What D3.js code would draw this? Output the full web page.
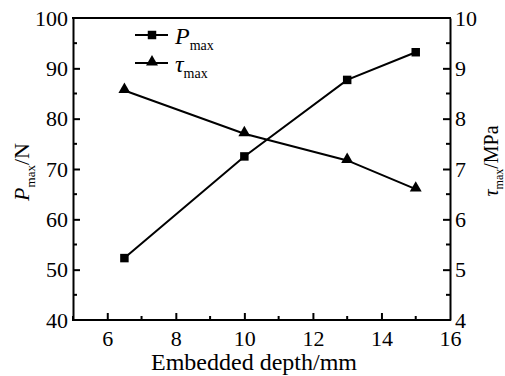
<!DOCTYPE html>
<html>
<head>
<meta charset="utf-8">
<script src="https://cdn.jsdelivr.net/npm/d3@7"></script>
</head>
<body style="margin:0; background:#fff">
<svg id="chart" width="505" height="376"></svg>
<script>
var depths = [6.5, 10, 13, 15];
var pMax = [52.3, 72.5, 87.7, 93.2];
var tauMax = [8.56, 7.70, 7.17, 6.60];
var xTicks = [6, 8, 10, 12, 14, 16];
var pTicks = [40, 50, 60, 70, 80, 90, 100];
var tauTicks = [4, 5, 6, 7, 8, 9, 10];

var FONT = '"Liberation Serif", "Times New Roman", serif';
var margin = { left: 73, right: 55, top: 18, bottom: 56 };
var width = 505, height = 376;

var svg = d3.select('#chart').style('font-family', FONT);

var x = d3.scaleLinear().domain([5, 16]).range([margin.left, width - margin.right]);
var yP = d3.scaleLinear().domain([40, 100]).range([height - margin.bottom, margin.top]);
var yT = d3.scaleLinear().domain([4, 10]).range([height - margin.bottom, margin.top]);

var x0 = x.range()[0], x1 = x.range()[1];
var yb = yP.range()[0], yt = yP.range()[1];

// minor ticks
var xMinor = d3.range(5, 16, 1).filter(function (v) { return xTicks.indexOf(v) < 0; });
var pMinor = d3.range(45, 100, 10);
var tMinor = d3.range(4.5, 10, 1);

var g = svg.append('g');

function styleAxis(sel) {
    sel.attr('font-family', null);
    sel.selectAll('.tick line').attr('stroke-width', 2);
    sel.select('.domain').attr('stroke-width', 2);
    sel.selectAll('text').attr('font-size', 22).attr('fill', '#000').style('font-family', FONT);
}

// x axis
var xAxis = d3.axisBottom(x).tickValues(xTicks).tickSizeInner(-7).tickSizeOuter(0).tickPadding(10);
var gx = g.append('g').attr('transform', 'translate(0,' + yb + ')').call(xAxis);
gx.selectAll('.tick').filter(function (d) { return d === 16; }).select('line').remove();
styleAxis(gx);
gx.select('.domain').attr('d', 'M' + (x0 - 1) + ',0H' + (x1 + 1));
gx.selectAll('text').attr('dy', '0.71em');
gx.selectAll('.minor').data(xMinor).enter().append('line')
    .attr('x1', function (d) { return x(d); }).attr('x2', function (d) { return x(d); })
    .attr('y1', 0).attr('y2', -4).attr('stroke', '#000').attr('stroke-width', 2);

// left axis
var pAxis = d3.axisLeft(yP).tickValues(pTicks).tickSizeInner(-7).tickSizeOuter(0).tickPadding(5);
var gp = g.append('g').attr('transform', 'translate(' + x0 + ',0)').call(pAxis);
gp.selectAll('.tick').filter(function (d) { return d === 40 || d === 100; }).select('line').remove();
styleAxis(gp);
gp.selectAll('.minor').data(pMinor).enter().append('line')
    .attr('y1', function (d) { return yP(d); }).attr('y2', function (d) { return yP(d); })
    .attr('x1', 0).attr('x2', 4).attr('stroke', '#000').attr('stroke-width', 2);

// right axis
var tAxis = d3.axisRight(yT).tickValues(tauTicks).tickFormat(d3.format('d'))
    .tickSizeInner(-7).tickSizeOuter(0).tickPadding(5);
var gt = g.append('g').attr('transform', 'translate(' + x1 + ',0)').call(tAxis);
gt.selectAll('.tick').filter(function (d) { return d === 4 || d === 10; }).select('line').remove();
styleAxis(gt);
gt.selectAll('.minor').data(tMinor).enter().append('line')
    .attr('y1', function (d) { return yT(d); }).attr('y2', function (d) { return yT(d); })
    .attr('x1', 0).attr('x2', -4).attr('stroke', '#000').attr('stroke-width', 2);

// top frame line
g.append('line').attr('x1', x0 - 1).attr('x2', x1 + 1).attr('y1', yt).attr('y2', yt)
    .attr('stroke', '#000').attr('stroke-width', 2);

// series
var pData = depths.map(function (d, i) { return [d, pMax[i]]; });
var tData = depths.map(function (d, i) { return [d, tauMax[i]]; });

var lineP = d3.line().x(function (d) { return x(d[0]); }).y(function (d) { return yP(d[1]); });
var lineT = d3.line().x(function (d) { return x(d[0]); }).y(function (d) { return yT(d[1]); });

g.append('path').attr('d', lineP(pData)).attr('fill', 'none').attr('stroke', '#000').attr('stroke-width', 2);
g.append('path').attr('d', lineT(tData)).attr('fill', 'none').attr('stroke', '#000').attr('stroke-width', 2);

var square = d3.symbol().type(d3.symbolSquare).size(72);
var triangle = d3.symbol().type(d3.symbolTriangle).size(62);

g.selectAll('.sq').data(pData).enter().append('path')
    .attr('d', square)
    .attr('transform', function (d) { return 'translate(' + x(d[0]) + ',' + yP(d[1]) + ')'; })
    .attr('fill', '#000');
g.selectAll('.tri').data(tData).enter().append('path')
    .attr('d', triangle)
    .attr('transform', function (d) { return 'translate(' + x(d[0]) + ',' + (yT(d[1]) - 1) + ')'; })
    .attr('fill', '#000');

// legend
var legend = g.append('g');
[[35, square, 'P'], [63, triangle, 'τ']].forEach(function (item) {
    legend.append('line').attr('x1', 135).attr('x2', 168).attr('y1', item[0]).attr('y2', item[0])
        .attr('stroke', '#000').attr('stroke-width', 2);
    legend.append('path').attr('d', item[1]).attr('fill', '#000')
        .attr('transform', 'translate(152,' + (item[0] - (item[2] === 'τ' ? 1 : 0)) + ')');
    var t = legend.append('text').attr('x', 175).attr('y', item[0] + 9).attr('font-size', 24)
        .style('font-family', FONT);
    t.append('tspan').attr('font-style', 'italic').text(item[2]);
    t.append('tspan').attr('font-size', 14).attr('dy', 6).text('max');
});

// axis titles
svg.append('text').attr('x', 254).attr('y', 370).attr('text-anchor', 'middle')
    .attr('font-size', 24).style('font-family', FONT).text('Embedded depth/mm');

var lt = svg.append('text').attr('transform', 'translate(29,172) rotate(-90)')
    .attr('text-anchor', 'middle').attr('font-size', 22).style('font-family', FONT);
lt.append('tspan').attr('font-style', 'italic').text('P');
lt.append('tspan').attr('font-size', 13).attr('dy', 6).text('max');
lt.append('tspan').attr('dy', -6).text('/N');

var rt = svg.append('text').attr('transform', 'translate(498,161) rotate(-90)')
    .attr('text-anchor', 'middle').attr('font-size', 20).style('font-family', FONT);
rt.append('tspan').attr('font-style', 'italic').text('τ');
rt.append('tspan').attr('font-size', 12).attr('dy', 5).text('max');
rt.append('tspan').attr('dy', -5).text('/MPa');
</script>
</body>
</html>
